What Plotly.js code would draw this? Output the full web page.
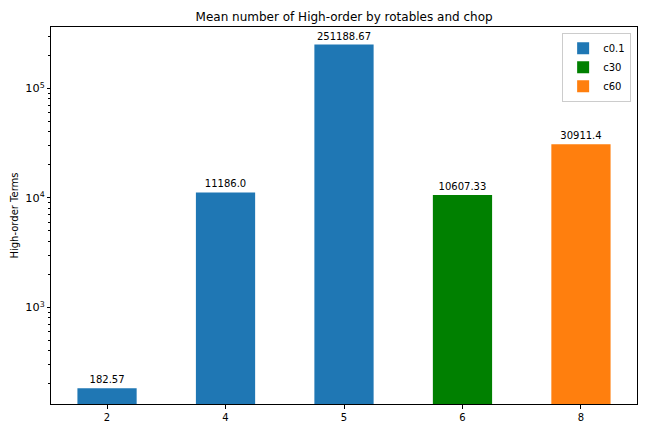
<!DOCTYPE html>
<html>
<head>
<meta charset="utf-8">
<script src="https://cdn.plot.ly/plotly-3.0.1.min.js"></script>
<style>
  body { margin: 0; background: #fff; }
  #chart { width: 648px; height: 432px; }
</style>
</head>
<body>
<div id="chart"></div>
<script>
// categories (number of rotables) and mean high-order terms per chop setting
var categories = ["2", "4", "5", "6", "8"];
var seriesNames = ["c0.1", "c30", "c60"];
var c01Values = [182.57, 11186.0, 251188.67, null, null];
var c30Values = [null, null, null, 10607.33, null];
var c60Values = [null, null, null, null, 30911.4];
var labels = ["182.57", "11186.0", "251188.67", "10607.33", "30911.4"];
var colors = ["#1f77b4", "#008000", "#ff7f0e"];

function makeTrace(values, name, color){
    var xs = [], ys = [], txt = [];
    for(var i = 0; i < values.length; i++){
        if(values[i] == null) continue;
        xs.push(categories[i]);
        ys.push(values[i]);
        txt.push(labels[i]);
    }
    return {
        x: xs,
        y: ys,
        name: name,
        type: 'bar',
        width: 0.5,
        marker: {color: color, line: {width: 0}},
        text: txt,
        textposition: 'outside',
        textfont: {size: 10, color: '#000'},
        constraintext: 'none',
        cliponaxis: false,
        hoverinfo: 'none'
    };
}

var data = [
    makeTrace(c01Values, seriesNames[0], colors[0]),
    makeTrace(c30Values, seriesNames[1], colors[1]),
    makeTrace(c60Values, seriesNames[2], colors[2])
];

var layout = {
    width: 648,
    height: 432,
    margin: {l: 51, r: 11, t: 27, b: 28},
    paper_bgcolor: '#fff',
    plot_bgcolor: '#fff',
    font: {family: 'DejaVu Sans', size: 10, color: '#000'},
    barmode: 'overlay',
    showlegend: true,
    title: {
        text: 'Mean number of High-order by rotables and chop',
        font: {size: 12},
        x: 0.531, xanchor: 'center',
        y: 0.962, yanchor: 'middle'
    },
    legend: {
        x: 0.99, xanchor: 'right',
        y: 0.985, yanchor: 'top',
        bordercolor: '#cccccc',
        borderwidth: 1,
        font: {size: 10},
        tracegroupgap: 0
    },
    xaxis: {
        type: 'category',
        categoryorder: 'array',
        categoryarray: categories,
        range: [-0.473, 4.473],
        showline: true,
        linecolor: '#000',
        linewidth: 1,
        mirror: true,
        ticks: 'outside',
        ticklen: 3.5,
        tickcolor: '#000',
        showgrid: false,
        zeroline: false,
        fixedrange: true
    },
    yaxis: {
        type: 'log',
        range: [2.117, 5.56],
        dtick: 1,
        exponentformat: 'power',
        tickfont: {size: 9},
        showline: true,
        linecolor: '#000',
        linewidth: 1,
        mirror: true,
        ticks: 'outside',
        ticklen: 3.5,
        tickcolor: '#000',
        minor: {ticks: 'outside', ticklen: 2, dtick: 'D1', tickcolor: '#000', showgrid: false},
        showgrid: false,
        zeroline: false,
        title: {text: 'High-order Terms', font: {size: 10}, standoff: 4}
    }
};

Plotly.newPlot('chart', data, layout, {displayModeBar: false, staticPlot: true});
</script>
</body>
</html>
